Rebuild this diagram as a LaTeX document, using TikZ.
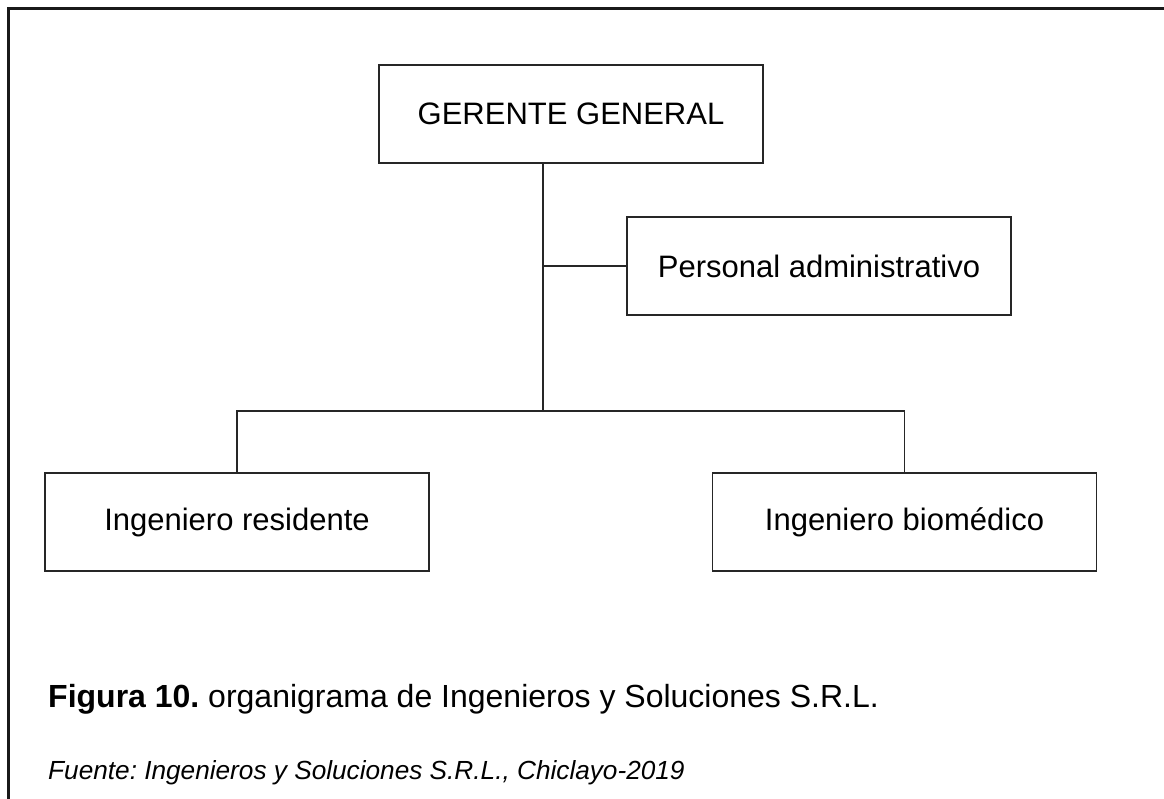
\documentclass[tikz,border=0pt]{standalone}
\usepackage{fontspec}
\setmainfont{Liberation Sans}
\usepackage{tikz}
\usetikzlibrary{positioning,calc}
\frenchspacing

\begin{document}
\begin{tikzpicture}[
  x=1pt, y=-1pt,
  box/.style={rectangle, draw=black!85, line width=1.5pt, minimum width=384pt, minimum height=98pt, font=\fontsize{31}{37}\selectfont, align=center, inner sep=0pt},
  link/.style={line width=1.5pt, draw=black!85},
  frame/.style={line width=3pt, draw=black!90}
]
\useasboundingbox (0,0) rectangle (1164,799);

% Outer frame (top and left edges only)
\draw[frame] (8,799) -- (8,9) -- (1164,9);

% Boxes
\node[box] (gerente) at (571,114) {GERENTE GENERAL};
\node[box] (personal) at (819,266) {Personal administrativo};
\node[box] (residente) at (237,522) {Ingeniero residente};
\node[box] (biomedico) at (904.5,522) {Ingeniero biomédico};

% Trunk and branches
\coordinate (split) at (543,411);
\draw[link] (gerente.south -| split) -- (split);
\draw[link] (personal.west) -- (personal.west -| split);
\draw[link] (residente.north) -- (residente.north |- split) -- (biomedico.north |- split) -- (biomedico.north);

% Caption
\node[anchor=base west, inner sep=0pt, font=\fontsize{32}{38}\selectfont] (caption) at (48,707) {\textbf{Figura 10.} organigrama de Ingenieros y Soluciones S.R.L.};
\node[anchor=base west, inner sep=0pt, font=\fontsize{26.2}{32}\selectfont\itshape] (fuente) at (48,779) {Fuente: Ingenieros y Soluciones S.R.L., Chiclayo-2019};

\end{tikzpicture}
\end{document}
